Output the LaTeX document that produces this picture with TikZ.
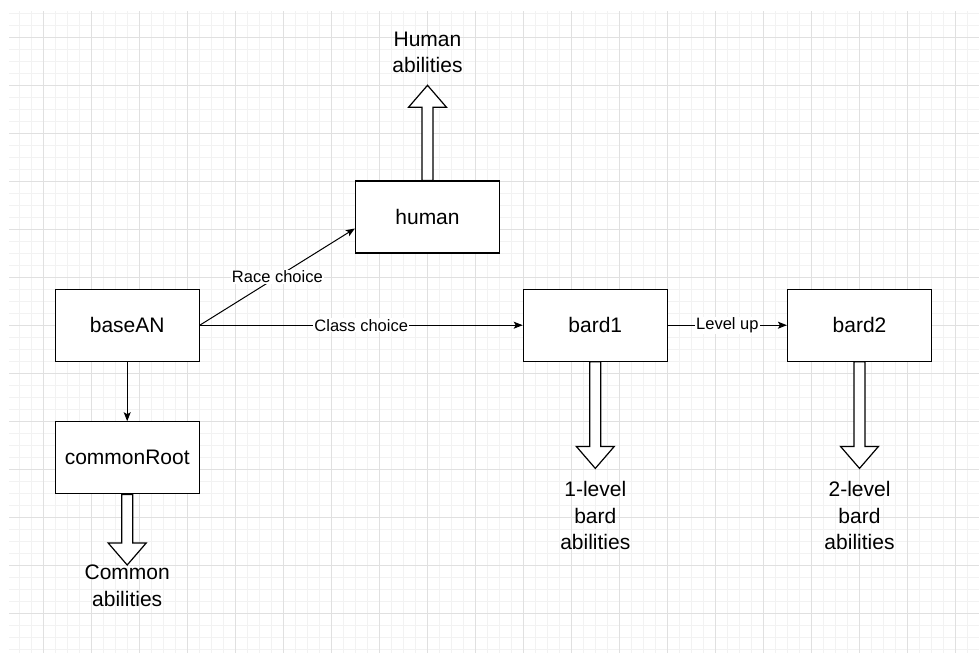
\documentclass[tikz,border=0pt]{standalone}
\usepackage{fontspec}
\setmainfont{Liberation Sans}
\usetikzlibrary{arrows.meta, calc}
\definecolor{gridminor}{HTML}{F2F2F2}
\definecolor{gridmajor}{HTML}{E0E0E0}
\newcommand{\fatarrow}[2]{%
    \coordinate (fs) at (#1);
    \coordinate (ft) at (#2);
    \coordinate (fh) at ($(ft)!22pt!(fs)$);
    \draw[fat] ($(fs)!5.5pt!90:(ft)$) -- ($(fh)!5.5pt!-90:(fs)$) -- ($(fh)!19pt!-90:(fs)$)
        -- (ft) -- ($(fh)!19pt!90:(fs)$) -- ($(fh)!5.5pt!90:(fs)$) -- ($(fs)!5.5pt!-90:(ft)$) -- cycle;
}

\begin{document}
\begin{tikzpicture}[x=1pt, y=-1pt,
    box/.style={draw, line width=1.2pt, minimum width=144pt, minimum height=72pt,
        font=\fontsize{21}{26}\selectfont},
    abil/.style={align=center, inner sep=0pt, font=\fontsize{21}{26.5}\selectfont},
    link/.style={line width=1pt, -{Stealth[length=9pt, width=7pt, inset=2pt]}},
    lbl/.style={fill=white, inner xsep=1pt, inner ysep=1pt, font=\fontsize{16.5}{20}\selectfont},
    fat/.style={draw, fill=white, line width=1.2pt, line join=miter}]
    \useasboundingbox (0,0) rectangle (979,653);
    % grid background
    \foreach \x in {19,31,...,979} \draw[gridminor, line width=0.8pt] (\x,11) -- (\x,653);
    \foreach \y in {13,25,...,653} \draw[gridminor, line width=0.8pt] (9,\y) -- (979,\y);
    \foreach \x in {43,91,...,979} \draw[gridmajor, line width=0.9pt] (\x,11) -- (\x,653);
    \foreach \y in {37,85,...,653} \draw[gridmajor, line width=0.9pt] (9,\y) -- (979,\y);

    \node[box, fill=white] (baseAN) at (127.2,325.2) {baseAN};
    \node[box, fill=white] (commonRoot) at (127.2,457.8) {commonRoot};
    \node[box, fill=white] (human) at (427.5,217) {human};
    \node[box, fill=white] (bard1) at (595.3,325.2) {bard1};
    \node[box, fill=white] (bard2) at (859.5,325.2) {bard2};

    \node[abil, anchor=south] (humanab) at (427.5,73.3) {Human\\abilities};
    \node[abil, anchor=north] (commonab) at (127.2,565) {Common\\abilities};
    \node[abil, anchor=north] (lvl1ab) at (595.3,481.4) {1-level\\bard\\abilities};
    \node[abil, anchor=north] (lvl2ab) at (859.5,481.4) {2-level\\bard\\abilities};

    \draw[link] (baseAN.east) -- node[lbl] {Race choice} (human.189);
    \draw[link] (baseAN.east) -- node[lbl] {Class choice} (bard1.west);
    \draw[link] (bard1.east) -- node[lbl] {Level up} (bard2.west);
    \draw[link] (baseAN.south) -- (commonRoot.north);

    \fatarrow{human.north}{$(humanab.south)+(0,12)$}
    \fatarrow{commonRoot.south}{commonab.north}
    \fatarrow{bard1.south}{$(lvl1ab.north)+(0,-13)$}
    \fatarrow{bard2.south}{$(lvl2ab.north)+(0,-13)$}
\end{tikzpicture}
\end{document}
